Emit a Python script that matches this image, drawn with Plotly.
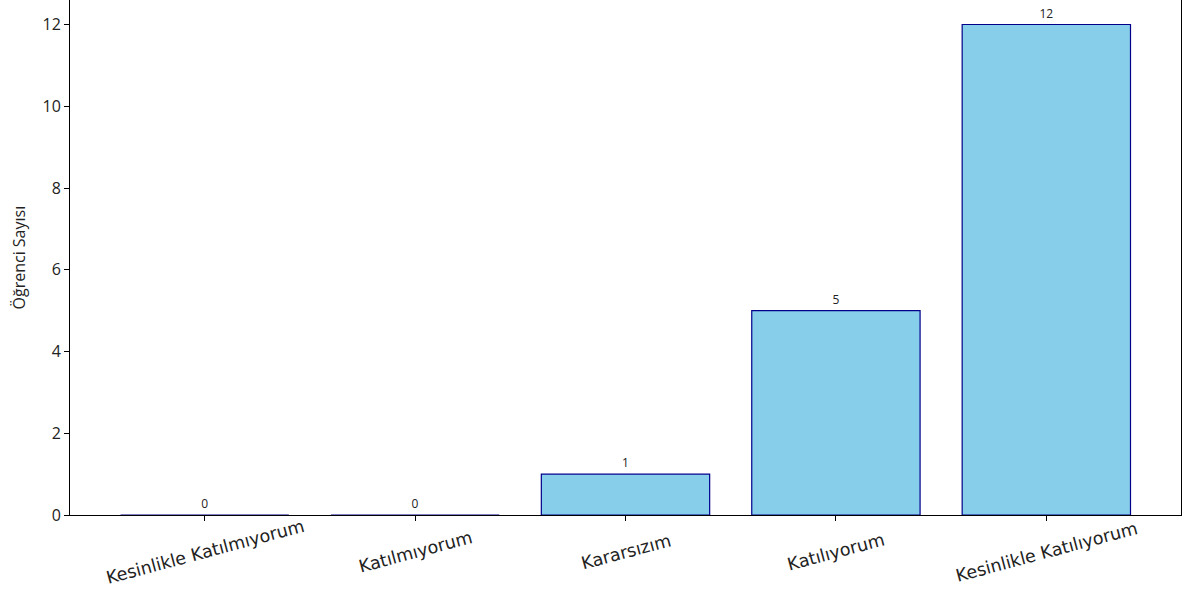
import plotly.graph_objects as go

categories = ["Kesinlikle Katılmıyorum", "Katılmıyorum", "Kararsızım", "Katılıyorum", "Kesinlikle Katılıyorum"]
counts = [0, 0, 1, 5, 12]
y_ticks = [0, 2, 4, 6, 8, 10, 12]

FONT = "Open Sans, Noto Sans, sans-serif"
WIDE = "DejaVu Sans, Open Sans, sans-serif"

fig = go.Figure(
    go.Bar(
        x=list(range(len(categories))),
        y=counts,
        width=0.8,
        marker=dict(color="#87CEEB", line=dict(color="#00008B", width=1.2)),
        text=[str(v) for v in counts],
        textposition="outside",
        textfont=dict(size=12, color="#222", family=FONT),
        cliponaxis=False,
    )
)

annotations = []
for i, c in enumerate(categories):
    annotations.append(dict(
        x=i, y=-0.071, xref="x", yref="paper",
        text=c, textangle=-15, showarrow=False,
        xanchor="center", yanchor="middle",
        font=dict(size=17.5, family=WIDE, color="#222"),
    ))
annotations.append(dict(
    x=0, y=0.5, xref="paper", yref="paper", xshift=-52,
    text="Öğrenci Sayısı", textangle=-90, showarrow=False,
    xanchor="center", yanchor="middle",
    font=dict(size=16, family=FONT, color="#222"),
))

fig.update_layout(
    width=1192,
    height=596,
    margin=dict(l=70, r=11, t=0, b=81, autoexpand=False),
    plot_bgcolor="white",
    paper_bgcolor="white",
    font=dict(family=FONT, size=15, color="#222"),
    showlegend=False,
    annotations=annotations,
)
fig.update_xaxes(
    range=[-0.64, 4.64],
    tickmode="array",
    tickvals=list(range(len(categories))),
    ticktext=[""] * len(categories),
    ticks="outside",
    ticklen=5,
    tickcolor="#000",
    showline=True,
    linecolor="#000",
    linewidth=1,
    mirror=True,
    showgrid=False,
    zeroline=False,
    automargin=False,
)
fig.update_yaxes(
    range=[0, 12.6],
    tickmode="array",
    tickvals=y_ticks,
    ticks="outside",
    ticklen=5,
    tickcolor="#000",
    showline=True,
    linecolor="#000",
    linewidth=1,
    mirror=True,
    showgrid=False,
    zeroline=False,
    automargin=False,
    tickfont=dict(size=16),
)

fig.write_html(
    "out.html",
    config={"displayModeBar": False},
    post_script="document.body.style.margin='0';",
)
